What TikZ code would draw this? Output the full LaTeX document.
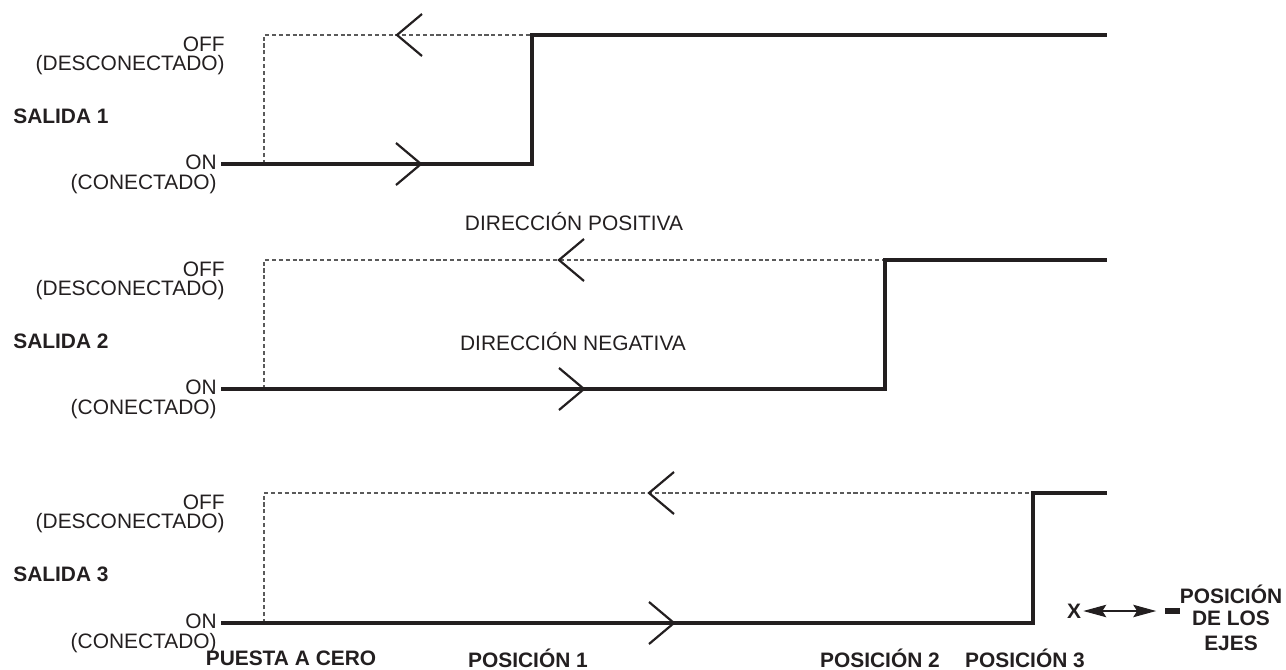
\documentclass[tikz,border=0pt]{standalone}
\usepackage{fontspec}
\setmainfont{Liberation Sans}
\usetikzlibrary{arrows.meta, calc}
\definecolor{traceBlack}{RGB}{35,31,32}
\definecolor{dashGray}{RGB}{90,90,90}
\newcommand{\fwdmark}[1]{\draw[chevron] ($(#1)+(-25,-21)$) -- (#1) -- ($(#1)+(-25,21)$);}
\newcommand{\backmark}[1]{\draw[chevron] ($(#1)+(25,-21)$) -- (#1) -- ($(#1)+(25,21)$);}
\tikzset{
    levellabel/.style={
        anchor=east,
        inner sep=0pt,
        text=traceBlack,
        font=\fontsize{11.9}{14}\selectfont
    },
    outlabel/.style={
        anchor=west,
        inner sep=0pt,
        text=traceBlack,
        font=\bfseries\fontsize{11.9}{14}\selectfont
    },
    poslabel/.style={
        inner sep=0pt,
        text=traceBlack,
        align=center,
        font=\bfseries\fontsize{11.9}{14}\selectfont
    },
    dirlabel/.style={
        inner sep=0pt,
        text=traceBlack,
        font=\fontsize{11.9}{14}\selectfont
    },
    signal/.style={line width=1.8pt, draw=traceBlack},
    retrace/.style={line width=0.75pt, draw=dashGray, dash pattern=on 2.3pt off 1.6pt},
    chevron/.style={line width=1.25pt, draw=traceBlack},
    axisarrow/.style={{Stealth[length=0.46cm, width=0.25cm, inset=0.08cm]}-{Stealth[length=0.46cm, width=0.25cm, inset=0.08cm]}, line width=0.6pt, draw=traceBlack}
}

\begin{document}
\begin{tikzpicture}[x=0.02cm, y=-0.02cm]
    \useasboundingbox (0,0) rectangle (1286,670);

    % output 1
    \node[levellabel] (off1) at (225,44) {OFF};
    \node[levellabel] (desc1) at (225,65) {(DESCONECTADO)};
    \node[outlabel] (out1) at (13,116) {SALIDA 1};
    \node[levellabel] (on1) at (217,162) {ON};
    \node[levellabel] (con1) at (217,184) {(CONECTADO)};
    \coordinate (zero1) at (264,164);
    \coordinate (rise1) at (532,164);
    \coordinate (top1) at (532,35);
    \coordinate (end1) at (1107,35);
    \draw[retrace] (zero1) -- (zero1 |- top1) -- (top1);
    \draw[signal] ($(on1.east)+(4,2)$) -- (rise1) -- (top1) -- (end1);
    \coordinate (back1) at (397,35);
    \coordinate (fwd1) at (421,164);
    \backmark{back1}
    \fwdmark{fwd1}

    % output 2
    \node[levellabel] (off2) at (225,269) {OFF};
    \node[levellabel] (desc2) at (225,290) {(DESCONECTADO)};
    \node[outlabel] (out2) at (13,341) {SALIDA 2};
    \node[levellabel] (on2) at (217,387) {ON};
    \node[levellabel] (con2) at (217,409) {(CONECTADO)};
    \node[dirlabel] (posdir) at (574,222) {DIRECCIÓN POSITIVA};
    \node[dirlabel] (negdir) at (573,342) {DIRECCIÓN NEGATIVA};
    \coordinate (zero2) at (264,389);
    \coordinate (rise2) at (885,389);
    \coordinate (top2) at (885,260);
    \coordinate (end2) at (1107,260);
    \draw[retrace] (zero2) -- (zero2 |- top2) -- (top2);
    \draw[signal] ($(on2.east)+(4,2)$) -- (rise2) -- (top2) -- (end2);
    \coordinate (back2) at (559,260);
    \coordinate (fwd2) at (584,389);
    \backmark{back2}
    \fwdmark{fwd2}

    % output 3
    \node[levellabel] (off3) at (225,502) {OFF};
    \node[levellabel] (desc3) at (225,523) {(DESCONECTADO)};
    \node[outlabel] (out3) at (13,574) {SALIDA 3};
    \node[levellabel] (on3) at (217,621) {ON};
    \node[levellabel] (con3) at (217,643) {(CONECTADO)};
    \coordinate (zero3) at (264,623);
    \coordinate (rise3) at (1033,623);
    \coordinate (top3) at (1033,493);
    \coordinate (end3) at (1107,493);
    \draw[retrace] (zero3) -- (zero3 |- top3) -- (top3);
    \draw[signal] ($(on3.east)+(4,2)$) -- (rise3) -- (top3) -- (end3);
    \coordinate (back3) at (649,493);
    \coordinate (fwd3) at (674,623);
    \backmark{back3}
    \fwdmark{fwd3}

    % positions along the axis
    \node[poslabel] (reset) at (291,658) {PUESTA A CERO};
    \node[poslabel] (pos1) at (528,658) {POSICIÓN 1};
    \node[poslabel] (pos2) at (880,658) {POSICIÓN 2};
    \node[poslabel] (pos3) at (1025,658) {POSICIÓN 3};

    % axis legend
    \node[poslabel] (xlbl) at (1074,611) {X};
    \node[fill=traceBlack, inner sep=0pt, minimum width=0.3cm, minimum height=0.11cm] (axbar) at (1172,611) {};
    \draw[axisarrow, shorten <=0.04cm, shorten >=0.16cm] (xlbl) -- (axbar);
    \node[poslabel] (axpos) at (1231,594) {POSICIÓN};
    \node[poslabel] (axdel) at (1231,618) {DE LOS};
    \node[poslabel] (axejes) at (1231,643) {EJES};
\end{tikzpicture}
\end{document}
